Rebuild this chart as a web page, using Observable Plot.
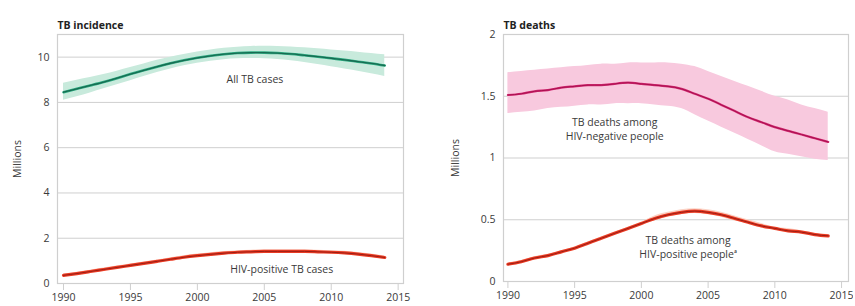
<!DOCTYPE html>
<html>
<head>
<meta charset="utf-8">
<script src="https://cdn.jsdelivr.net/npm/d3@7"></script>
<script src="https://cdn.jsdelivr.net/npm/@observablehq/plot@0.6"></script>
<style>
  body { margin: 0; background: #fff; }
  #wrap { position: relative; width: 855px; height: 306px; font-family: "Open Sans", Lato, sans-serif; }
  #left, #right { position: absolute; top: 0; }
  #left { left: 0; }
  #right { left: 438px; }
</style>
</head>
<body>
<div id="wrap"><div id="left"></div><div id="right"></div></div>
<script>
const years = d3.range(1990, 2015);
const xTicks = [1990, 1995, 2000, 2005, 2010, 2015];

// TB incidence (millions)
const allTB     = [8.45, 8.6, 8.75, 8.9, 9.07, 9.25, 9.42, 9.58, 9.73, 9.86, 9.97, 10.06, 10.13, 10.18, 10.2, 10.2, 10.18, 10.14, 10.08, 10.02, 9.95, 9.88, 9.8, 9.72, 9.63];
const allTBLo   = [8.1, 8.25, 8.42, 8.6, 8.78, 8.96, 9.14, 9.32, 9.48, 9.62, 9.73, 9.82, 9.89, 9.93, 9.94, 9.93, 9.9, 9.84, 9.76, 9.67, 9.58, 9.48, 9.38, 9.27, 9.15];
const allTBHi   = [8.85, 8.98, 9.1, 9.23, 9.38, 9.54, 9.7, 9.86, 10.0, 10.12, 10.23, 10.32, 10.39, 10.44, 10.47, 10.48, 10.47, 10.45, 10.41, 10.37, 10.32, 10.27, 10.22, 10.16, 10.1];
const hivTB     = [0.36, 0.44, 0.53, 0.62, 0.71, 0.8, 0.89, 0.98, 1.07, 1.16, 1.23, 1.29, 1.34, 1.38, 1.4, 1.42, 1.42, 1.42, 1.42, 1.4, 1.38, 1.35, 1.3, 1.23, 1.15];
const hivTBLo   = [0.3, 0.38, 0.47, 0.56, 0.65, 0.74, 0.83, 0.92, 1.0, 1.09, 1.16, 1.22, 1.27, 1.31, 1.33, 1.35, 1.35, 1.35, 1.35, 1.33, 1.31, 1.28, 1.23, 1.16, 1.08];
const hivTBHi   = [0.42, 0.5, 0.59, 0.68, 0.77, 0.86, 0.95, 1.04, 1.14, 1.23, 1.3, 1.36, 1.41, 1.45, 1.47, 1.49, 1.49, 1.49, 1.49, 1.47, 1.45, 1.42, 1.37, 1.3, 1.22];

// TB deaths (millions)
const negDeaths   = [1.51, 1.52, 1.54, 1.55, 1.57, 1.58, 1.59, 1.59, 1.6, 1.61, 1.6, 1.59, 1.58, 1.56, 1.52, 1.48, 1.43, 1.38, 1.33, 1.29, 1.25, 1.22, 1.19, 1.16, 1.13];
const negDeathsLo = [1.36, 1.37, 1.38, 1.4, 1.41, 1.42, 1.43, 1.43, 1.44, 1.44, 1.44, 1.43, 1.42, 1.4, 1.35, 1.3, 1.25, 1.2, 1.15, 1.1, 1.05, 1.03, 1.01, 0.99, 0.98];
const negDeathsHi = [1.69, 1.7, 1.71, 1.72, 1.73, 1.74, 1.75, 1.76, 1.76, 1.77, 1.77, 1.77, 1.77, 1.76, 1.74, 1.7, 1.66, 1.62, 1.58, 1.54, 1.5, 1.47, 1.43, 1.4, 1.37];
const posDeaths   = [0.14, 0.16, 0.19, 0.21, 0.24, 0.27, 0.31, 0.35, 0.39, 0.43, 0.47, 0.51, 0.54, 0.56, 0.57, 0.56, 0.54, 0.51, 0.48, 0.45, 0.43, 0.41, 0.4, 0.38, 0.37];
const posDeathsLo = [0.13, 0.15, 0.18, 0.2, 0.23, 0.26, 0.3, 0.34, 0.38, 0.42, 0.46, 0.49, 0.52, 0.54, 0.55, 0.54, 0.52, 0.49, 0.47, 0.44, 0.42, 0.4, 0.39, 0.37, 0.36];
const posDeathsHi = [0.15, 0.17, 0.2, 0.22, 0.25, 0.28, 0.32, 0.36, 0.4, 0.44, 0.48, 0.53, 0.56, 0.58, 0.59, 0.58, 0.56, 0.53, 0.5, 0.47, 0.44, 0.43, 0.41, 0.39, 0.38];

// Series labels (text and anchor position in data units)
const incLabels = [
  {x: 2004.3, y: 9.0, t: "All TB cases"},
  {x: 2006.3, y: 0.62, t: "HIV-positive TB cases"}
];
const deathLabels = [
  {x: 1998, y: 1.29, t: "TB deaths among"},
  {x: 1998, y: 1.17, t: "HIV-negative people"},
  {x: 2003.5, y: 0.335, t: "TB deaths among"},
  {x: 2003.5, y: 0.215, t: "HIV-positive people\u1D43"}
];

const mk = (mid, lo, hi) => years.map((y, i) => ({year: y, mid: mid[i], lo: lo[i], hi: hi[i]}));
const incAll = mk(allTB, allTBLo, allTBHi);
const incHiv = mk(hivTB, hivTBLo, hivTBHi);
const dNeg = mk(negDeaths, negDeathsLo, negDeathsHi);
const dPos = mk(posDeaths, posDeathsLo, posDeathsHi);

const gridColor = "#cfcfcf";
const textColor = "#3a3a3a";

function panel({data1, data2, c1, band1, c2, band2, yDomain, yTicks, xDomain, width, marginLeft, marginRight, marginBottom, title, labelOffset, labels}) {
  return Plot.plot({
    width, height: 306,
    marginLeft, marginRight, marginTop: 34, marginBottom,
    style: {fontFamily: "'Open Sans', Lato, sans-serif", fontSize: "10px", color: textColor, background: "transparent"},
    x: {domain: xDomain},
    y: {domain: yDomain},
    marks: [
      Plot.gridY(yTicks, {stroke: gridColor, strokeOpacity: 1, strokeWidth: 1}),
      Plot.frame({stroke: gridColor, strokeWidth: 1.2}),
      Plot.areaY(data1, {x: "year", y1: "lo", y2: "hi", fill: band1, curve: "natural"}),
      Plot.areaY(data2, {x: "year", y1: "lo", y2: "hi", fill: band2, curve: "natural"}),
      Plot.line(data1, {x: "year", y: "mid", stroke: c1.outer, strokeWidth: c1.w, curve: "natural"}),
      Plot.line(data1, {x: "year", y: "mid", stroke: c1.inner, strokeWidth: c1.iw, curve: "natural"}),
      Plot.line(data2, {x: "year", y: "mid", stroke: c2.outer, strokeWidth: c2.w, curve: "natural"}),
      Plot.line(data2, {x: "year", y: "mid", stroke: c2.inner, strokeWidth: c2.iw, curve: "natural"}),
      Plot.axisX(xTicks, {tickSize: 7, tickPadding: 3, stroke: gridColor, tickFormat: d => String(d), fontSize: 10.5, fill: textColor, label: null}),
      Plot.axisY(yTicks, {tickSize: 0, tickPadding: 8, tickFormat: d => String(d), fontSize: 10.5, fill: textColor, label: "Millions", labelAnchor: "center", labelArrow: "none", labelOffset}),
      Plot.text([title], {frameAnchor: "top-left", dy: -13, dx: 0, text: d => d, fontWeight: "bold", fontSize: 10.5, fill: "#222"}),
      Plot.text(labels, {x: "x", y: "y", text: "t", fontSize: 10.5, fill: textColor})
    ]
  });
}

document.getElementById("left").append(panel({
  data1: incAll, data2: incHiv,
  c1: {outer: "#2fae83", w: 2.6, inner: "#176b52", iw: 1.3}, band1: "#c8eadc",
  c2: {outer: "#ea3a22", w: 3.2, inner: "#9a1d14", iw: 1}, band2: "#fbd3c6",
  yDomain: [0, 11], yTicks: [0, 2, 4, 6, 8, 10],
  xDomain: [1989.55, 2015.4], width: 425, marginLeft: 57, marginRight: 22, marginBottom: 23,
  title: "TB incidence", labelOffset: 44,
  labels: incLabels
}));

document.getElementById("right").append(panel({
  data1: dNeg, data2: dPos,
  c1: {outer: "#d42a72", w: 2.2, inner: "#a8104f", iw: 1}, band1: "#f8c9de",
  c2: {outer: "#ea3a22", w: 3.2, inner: "#9a1d14", iw: 1}, band2: "#fbd3c6",
  yDomain: [0, 2], yTicks: [0, 0.5, 1, 1.5, 2],
  xDomain: [1989.67, 2015.52], width: 415, marginLeft: 65, marginRight: 5, marginBottom: 25,
  title: "TB deaths", labelOffset: 52,
  labels: deathLabels
}));
</script>
</body>
</html>
